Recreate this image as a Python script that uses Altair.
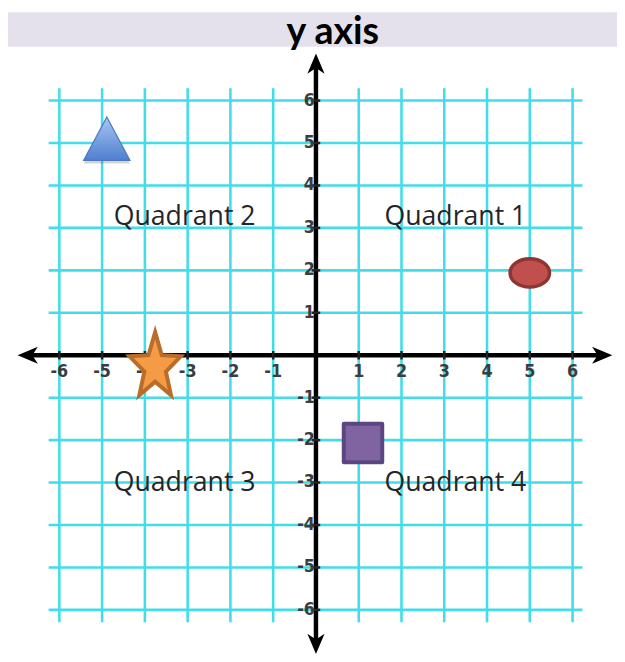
import math
import altair as alt
import pandas as pd

# ---------------- data ----------------
grid_values = [-6, -5, -4, -3, -2, -1, 0, 1, 2, 3, 4, 5, 6]
x_label_values = [-6, -5, -4, -3, -2, -1, 1, 2, 3, 4, 5, 6]
y_label_values = [6, 5, 4, 3, 2, 1, -1, -2, -3, -4, -5, -6]

quad_names = ["Quadrant 1", "Quadrant 2", "Quadrant 3", "Quadrant 4"]
quad_x = [3.26, -3.07, -3.07, 3.26]
quad_y = [3.06, 3.08, -3.2, -3.2]

shape_names = ["triangle", "ellipse", "square", "star"]
shape_x = [-4.89, 5.0, 1.1, -3.76]
shape_y = [5.1, 1.94, -2.07, -0.2]

title_text = "y axis"

# ---------------- scales ----------------
X_DOM = [-7.2005, 7.039]
Y_DOM = [-7.1279, 8.0814]
xs = alt.Scale(domain=X_DOM, nice=False, zero=False)
ys = alt.Scale(domain=Y_DOM, nice=False, zero=False)


def X(f="x"):
    return alt.X(f"{f}:Q", scale=xs, axis=None)


def Y(f="y"):
    return alt.Y(f"{f}:Q", scale=ys, axis=None)


GRID = "#42dde9"

# top band
band = alt.Chart(pd.DataFrame({"x": [X_DOM[0]], "x2": [X_DOM[1]], "y": [7.267], "y2": [Y_DOM[1]]})).mark_rect(
    color="#e4e0ec"
).encode(x=X(), x2="x2:Q", y=Y(), y2="y2:Q")

# grid
vgrid = alt.Chart(pd.DataFrame({"x": grid_values, "y": [-6.29] * 13, "y2": [6.29] * 13})).mark_rule(
    color=GRID, strokeWidth=2.6
).encode(x=X(), y=Y(), y2="y2:Q")
hgrid = alt.Chart(pd.DataFrame({"y": grid_values, "x": [-6.25] * 13, "x2": [6.23] * 13})).mark_rule(
    color=GRID, strokeWidth=2.6
).encode(y=Y(), x=X(), x2="x2:Q")

# axes
xaxis = alt.Chart(pd.DataFrame({"x": [-6.7], "x2": [6.65], "y": [0]})).mark_rule(
    color="black", strokeWidth=4.5
).encode(x=X(), x2="x2:Q", y=Y())
yaxis = alt.Chart(pd.DataFrame({"y": [-6.75], "y2": [6.82], "x": [0]})).mark_rule(
    color="black", strokeWidth=4.5
).encode(y=Y(), y2="y2:Q", x=X())

xticks = alt.Chart(pd.DataFrame({"x": x_label_values, "y": [-0.1] * 12, "y2": [0.1] * 12})).mark_rule(
    color="#222", strokeWidth=2.5
).encode(x=X(), y=Y(), y2="y2:Q")
yticks = alt.Chart(pd.DataFrame({"y": y_label_values, "x": [-0.1] * 12, "x2": [0.1] * 12})).mark_rule(
    color="#222", strokeWidth=2.5
).encode(y=Y(), x=X(), x2="x2:Q")

ARROW = "M1,0L-1,-0.85L-0.45,0L-1,0.85Z"
arrows = alt.Chart(
    pd.DataFrame({"x": [6.693, -6.739, 0, 0], "y": [0, 0, 6.872, -6.802], "ang": [0, 180, 270, 90]})
).mark_point(shape=ARROW, size=420, filled=True, color="black", opacity=1).encode(
    x=X(), y=Y(), angle=alt.Angle("ang:Q", scale=None)
)

LABEL_FONT = "Liberation Sans Narrow, DejaVu Sans Condensed, sans-serif"
xlabels = alt.Chart(pd.DataFrame({"x": x_label_values, "t": [str(v) for v in x_label_values]})).mark_text(
    font=LABEL_FONT, fontSize=18, fontWeight="bold", color="#3a3d40", baseline="middle", align="center"
).encode(x=X(), y=alt.value(365), text="t:N")
ylabels = alt.Chart(pd.DataFrame({"y": y_label_values, "t": [str(v) for v in y_label_values]})).mark_text(
    font=LABEL_FONT, fontSize=18, fontWeight="bold", color="#3a3d40", baseline="middle", align="right"
).encode(y=Y(), x=alt.value(311), text="t:N")

quads = alt.Chart(pd.DataFrame({"x": quad_x, "y": quad_y, "t": quad_names})).mark_text(
    font="Open Sans", fontSize=27, color="#22262b", baseline="alphabetic", align="center"
).encode(x=X(), y=Y(), text="t:N")

title = alt.Chart(pd.DataFrame({"x": [0.392], "y": [7.337], "t": [title_text]})).mark_text(
    font="Lato", fontSize=38, fontWeight="bold", color="black", baseline="alphabetic", align="center"
).encode(x=X(), y=Y(), text="t:N")

# shapes
df_shapes = pd.DataFrame({"name": shape_names, "x": shape_x, "y": shape_y})

TRI = "M0,-0.935L1,0.935L-1,0.935Z"
tri_shadow = alt.Chart(df_shapes[df_shapes.name == "triangle"]).mark_point(
    shape=TRI, size=2209, filled=True, color="#555555", opacity=0.25
).encode(x=X(), y=alt.Y("ys:Q", scale=ys, axis=None)).transform_calculate(ys="datum.y - 0.07")
tri = alt.Chart(df_shapes[df_shapes.name == "triangle"]).mark_point(
    shape=TRI,
    size=2209,
    filled=True,
    opacity=1,
    fill=alt.LinearGradient(
        gradient="linear",
        x1=0, y1=0, x2=0, y2=1,
        stops=[alt.GradientStop(color="#a9c5f3", offset=0), alt.GradientStop(color="#4e7fcf", offset=1)],
    ),
    stroke="#4a78c4",
    strokeWidth=1.2,
).encode(x=X(), y=Y())

ELL = "M-1,0A1,0.72,0,1,0,1,0A1,0.72,0,1,0,-1,0Z"
ell = alt.Chart(df_shapes[df_shapes.name == "ellipse"]).mark_point(
    shape=ELL, size=1600, filled=True, opacity=1, fill="#c0504d", stroke="#8e3532", strokeWidth=3.5
).encode(x=X(), y=Y())

sq = alt.Chart(df_shapes[df_shapes.name == "square"]).mark_point(
    shape="square", size=1521, filled=True, opacity=1, fill="#8064a2", stroke="#5c4680",
    strokeWidth=4, strokeJoin="round"
).encode(x=X(), y=Y())

# star path (5 point star, stretched vertically)
pts = []
for i in range(10):
    a = math.radians(-90 + 36 * i)
    r = 1.0 if i % 2 == 0 else 0.42
    px = math.cos(a) * r / 0.951 * 0.8125
    py = -1 + (math.sin(a) * r + 1) * 2 / 1.809
    pts.append(f"{px:.4f},{py:.4f}")
STAR = "M" + "L".join(pts) + "Z"
star = alt.Chart(df_shapes[df_shapes.name == "star"]).mark_point(
    shape=STAR, size=4096, filled=True, opacity=1, fill="#f59a45", stroke="#b86d2b", strokeWidth=4
).encode(x=X(), y=Y())

chart = alt.layer(
    band, vgrid, hgrid, xaxis, yaxis, xticks, yticks, arrows,
    xlabels, ylabels, quads, title, tri_shadow, tri, ell, sq, star
).properties(
    width=617, height=654, padding=0, background="white",
    autosize=alt.AutoSizeParams(type="none"),
).configure_view(stroke=None)

chart.save("out.html", embed_options={"renderer": "svg", "actions": False})
